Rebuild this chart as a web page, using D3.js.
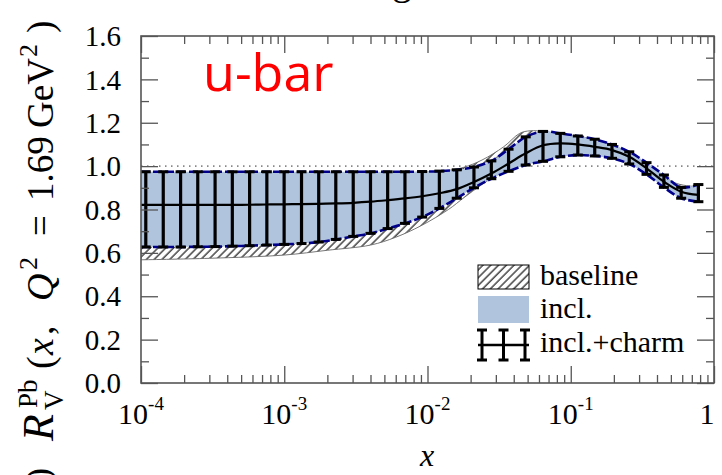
<!DOCTYPE html>
<html>
<head>
<meta charset="utf-8">
<script src="https://cdn.jsdelivr.net/npm/d3@7"></script>
<style>
  html, body { margin: 0; padding: 0; background: #fff; }
  svg { display: block; }
  text { white-space: pre; }
</style>
</head>
<body>
<svg width="722" height="475" font-family="'Liberation Serif', 'DejaVu Serif', serif"></svg>
<script>
(function (d3) {
  'use strict';

  // x positions of the error bars (first entry just opens the band at the frame)
  const xPoints = [1e-4, 1.08e-4, 1.43e-4, 1.89e-4, 2.49e-4, 3.29e-4, 4.34e-4, 5.73e-4, 7.56e-4, 9.98e-4,
    1.32e-3, 1.74e-3, 2.29e-3, 3.03e-3, 4.0e-3, 5.27e-3, 6.96e-3, 9.18e-3, 1.21e-2, 1.60e-2,
    2.11e-2, 2.79e-2, 3.68e-2, 4.85e-2, 6.40e-2, 8.45e-2, 0.112, 0.147, 0.194, 0.256,
    0.338, 0.447, 0.590, 0.778];

  // incl. band (= incl.+charm error bars)
  const inclUpper = [0.974, 0.974, 0.974, 0.974, 0.974, 0.974, 0.974, 0.974, 0.974, 0.974,
    0.974, 0.974, 0.974, 0.974, 0.974, 0.974, 0.974, 0.975, 0.977, 0.983,
    0.996, 1.024, 1.078, 1.135, 1.160, 1.151, 1.139, 1.124, 1.100, 1.066,
    1.016, 0.959, 0.902, 0.915];
  const inclLower = [0.627, 0.627, 0.627, 0.627, 0.628, 0.629, 0.631, 0.633, 0.636, 0.639,
    0.643, 0.650, 0.662, 0.676, 0.690, 0.712, 0.736, 0.765, 0.805, 0.852,
    0.900, 0.942, 0.976, 1.005, 1.022, 1.043, 1.051, 1.047, 1.036, 1.010,
    0.962, 0.902, 0.852, 0.836];
  const central = [0.821, 0.821, 0.821, 0.821, 0.821, 0.821, 0.821, 0.822, 0.823, 0.824,
    0.825, 0.826, 0.828, 0.831, 0.836, 0.843, 0.851, 0.861, 0.875, 0.894,
    0.927, 0.966, 1.012, 1.059, 1.096, 1.105, 1.100, 1.089, 1.074, 1.043,
    0.990, 0.928, 0.882, 0.867];

  // baseline (hatched)
  const baseX = [1e-4, 3e-4, 1e-3, 2e-3, 4e-3, 6e-3, 9e-3, 1.4e-2, 1.8e-2, 2.4e-2,
    3.4e-2, 4.4e-2, 5.2e-2, 6.5e-2, 8e-2, 0.12, 0.2, 0.35, 0.55, 0.778];
  const baseUpper = [0.965, 0.965, 0.965, 0.965, 0.966, 0.968, 0.972, 0.980, 0.995, 1.028,
    1.089, 1.151, 1.163, 1.160, 1.150, 1.135, 1.095, 1.000, 0.920, 0.905];
  const baseLower = [0.568, 0.575, 0.590, 0.612, 0.636, 0.672, 0.725, 0.800, 0.855, 0.915,
    0.980, 1.020, 1.035, 1.045, 1.050, 1.050, 1.040, 0.970, 0.870, 0.845];

  const xMajorTicks = [1e-4, 1e-3, 1e-2, 1e-1, 1];
  const xTickExponents = ['-4', '-3', '-2', '-1', ''];
  const yMajorTicks = [0, 0.2, 0.4, 0.6, 0.8, 1.0, 1.2, 1.4, 1.6];
  const legendLabels = ['baseline', 'incl.', 'incl.+charm'];

  const svg = d3.select('svg');
  const plot = { left: 141, right: 714, top: 36, bottom: 383 };

  const x = d3.scaleLog().domain([1e-4, 1]).range([plot.left, plot.right]);
  const y = d3.scaleLinear().domain([0, 1.6]).range([plot.bottom, plot.top]);

  const defs = svg.append('defs');
  defs.append('clipPath').attr('id', 'clip')
    .append('rect')
      .attr('x', plot.left).attr('y', plot.top)
      .attr('width', plot.right - plot.left).attr('height', plot.bottom - plot.top);
  const hatch = defs.append('pattern')
    .attr('id', 'hatch')
    .attr('patternUnits', 'userSpaceOnUse')
    .attr('width', 5.5).attr('height', 10)
    .attr('patternTransform', 'rotate(45)');
  hatch.append('rect').attr('width', 5.5).attr('height', 10).attr('fill', '#fff');
  hatch.append('line')
    .attr('x1', 1).attr('x2', 1).attr('y1', 0).attr('y2', 10)
    .attr('stroke', '#000').attr('stroke-width', 1.1);

  const inclData = xPoints.map((xv, i) => ({ x: xv, hi: inclUpper[i], lo: inclLower[i], c: central[i] }));
  const baseData = baseX.map((xv, i) => ({ x: xv, hi: baseUpper[i], lo: baseLower[i] }));
  const barData = inclData.slice(1);

  const g = svg.append('g').attr('clip-path', 'url(#clip)');

  // dotted line at 1
  g.append('line')
    .attr('x1', plot.left).attr('x2', plot.right)
    .attr('y1', y(1)).attr('y2', y(1))
    .attr('stroke', '#888').attr('stroke-width', 1.6)
    .attr('stroke-dasharray', '1.5,4.5');

  const curve = d3.curveCatmullRom;

  g.append('path')
    .datum(baseData)
    .attr('d', d3.area().x(d => x(d.x)).y0(d => y(d.lo)).y1(d => y(d.hi)).curve(curve))
    .attr('fill', 'url(#hatch)')
    .attr('stroke', '#666').attr('stroke-width', 0.9);

  g.append('path')
    .datum(inclData)
    .attr('d', d3.area().x(d => x(d.x)).y0(d => y(d.lo)).y1(d => y(d.hi)).curve(curve))
    .attr('fill', '#b0c4de');

  ['hi', 'lo'].forEach(k => {
    g.append('path')
      .datum(inclData)
      .attr('d', d3.line().x(d => x(d.x)).y(d => y(d[k])).curve(curve))
      .attr('fill', 'none')
      .attr('stroke', '#00008b').attr('stroke-width', 2.6)
      .attr('stroke-dasharray', '9,3');
  });

  g.append('path')
    .datum(inclData)
    .attr('d', d3.line().x(d => x(d.x)).y(d => y(d.c)).curve(curve))
    .attr('fill', 'none')
    .attr('stroke', '#000').attr('stroke-width', 2.2);

  // error bars
  const bars = g.selectAll('.bar').data(barData).enter().append('g').attr('class', 'bar');
  bars.append('line')
    .attr('x1', d => x(d.x)).attr('x2', d => x(d.x))
    .attr('y1', d => y(d.hi)).attr('y2', d => y(d.lo))
    .attr('stroke', '#000').attr('stroke-width', 3.2);
  ['hi', 'lo'].forEach(k => {
    bars.append('line')
      .attr('x1', d => x(d.x) - 5).attr('x2', d => x(d.x) + 5)
      .attr('y1', d => y(d[k])).attr('y2', d => y(d[k]))
      .attr('stroke', '#000').attr('stroke-width', 3);
  });

  // frame and ticks
  const axisColor = '#555';
  const xMinor = x.ticks().filter(t => !xMajorTicks.some(m => Math.abs(m - t) / m < 1e-6));
  const yMinor = y.ticks(16).filter(t => !yMajorTicks.some(m => Math.abs(m - t) < 1e-6));

  const addAxis = (axis, transform) => {
    const a = svg.append('g').attr('transform', transform).call(axis);
    a.select('.domain').remove();
    a.selectAll('text').remove();
    a.selectAll('line').attr('stroke', axisColor).attr('stroke-width', 1.3);
  };
  addAxis(d3.axisBottom(x).tickValues(xMajorTicks).tickSize(-17), `translate(0,${plot.bottom})`);
  addAxis(d3.axisBottom(x).tickValues(xMinor).tickSize(-8), `translate(0,${plot.bottom})`);
  addAxis(d3.axisTop(x).tickValues(xMajorTicks).tickSize(-17), `translate(0,${plot.top})`);
  addAxis(d3.axisTop(x).tickValues(xMinor).tickSize(-8), `translate(0,${plot.top})`);
  addAxis(d3.axisLeft(y).tickValues(yMajorTicks).tickSize(-17), `translate(${plot.left},0)`);
  addAxis(d3.axisLeft(y).tickValues(yMinor).tickSize(-8), `translate(${plot.left},0)`);
  addAxis(d3.axisRight(y).tickValues(yMajorTicks).tickSize(-17), `translate(${plot.right},0)`);
  addAxis(d3.axisRight(y).tickValues(yMinor).tickSize(-8), `translate(${plot.right},0)`);

  svg.append('rect')
    .attr('x', plot.left).attr('y', plot.top)
    .attr('width', plot.right - plot.left).attr('height', plot.bottom - plot.top)
    .attr('fill', 'none').attr('stroke', axisColor).attr('stroke-width', 1.6);

  // tick labels
  svg.selectAll('.ylab').data(yMajorTicks).enter().append('text')
    .attr('class', 'ylab')
    .attr('x', 121).attr('y', d => y(d)).attr('dy', '0.35em')
    .attr('text-anchor', 'end')
    .attr('font-size', 29)
    .text(d => d.toFixed(1));

  const xl = svg.selectAll('.xlab').data(xMajorTicks).enter().append('text')
    .attr('class', 'xlab')
    .attr('x', d => x(d) - (d === 1 ? 7 : 0)).attr('y', 424)
    .attr('text-anchor', 'middle')
    .attr('font-size', 30);
  xl.append('tspan').text(d => d === 1 ? '1' : '10');
  xl.append('tspan')
    .attr('font-size', 19).attr('dy', -14)
    .text((d, i) => xTickExponents[i]);

  // axis titles
  svg.append('text')
    .attr('x', 427).attr('y', 466)
    .attr('text-anchor', 'middle')
    .attr('font-size', 32).attr('font-style', 'italic')
    .text('x');

  // y title, pieces placed along the rotated baseline
  const yTitleParts = [
    { t: 'R', at: 0, dy: 0, size: 44, italic: true },
    { t: 'Pb', at: 33, dy: -16, size: 27 },
    { t: 'V', at: 31, dy: 10, size: 27 },
    { t: '(', at: 72, dy: 0, size: 38 },
    { t: 'x', at: 86, dy: 0, size: 38, italic: true },
    { t: ',', at: 106, dy: 0, size: 38 },
    { t: 'Q', at: 140, dy: 0, size: 38, italic: true },
    { t: '2', at: 171, dy: -16, size: 26 },
    { t: '=', at: 205, dy: 0, size: 37 },
    { t: '1.69', at: 240, dy: 0, size: 37 },
    { t: 'GeV', at: 313, dy: 0, size: 37 },
    { t: '2', at: 384, dy: -16, size: 26 },
    { t: ')', at: 408, dy: 0, size: 37 }
  ];
  svg.append('text')
    .attr('transform', 'translate(53,441) rotate(-90)')
    .selectAll('tspan').data(yTitleParts).enter().append('tspan')
      .attr('x', d => d.at)
      .attr('y', d => d.dy)
      .attr('font-size', d => d.size)
      .attr('font-style', d => d.italic ? 'italic' : 'normal')
      .text(d => d.t);

  // cut-off pieces of neighbouring panels
  svg.append('text')
    .attr('x', 392).attr('y', -6)
    .attr('font-size', 40)
    .text('g');
  svg.append('text')
    .attr('transform', 'translate(50,480) rotate(-90)')
    .attr('font-size', 36)
    .text(')');

  // panel label
  svg.append('text')
    .attr('x', 203).attr('y', 91)
    .attr('font-family', '"Open Sans", sans-serif')
    .attr('font-size', 52)
    .attr('fill', '#ff0000')
    .text('u-bar');

  // legend
  const lg = svg.append('g');
  lg.append('rect')
    .attr('x', 478).attr('y', 265).attr('width', 51).attr('height', 24)
    .attr('fill', 'url(#hatch)').attr('stroke', '#000').attr('stroke-width', 1);
  lg.append('rect')
    .attr('x', 478).attr('y', 296).attr('width', 51).attr('height', 27)
    .attr('fill', '#b0c4de');
  lg.append('line')
    .attr('x1', 478).attr('x2', 529).attr('y1', 345).attr('y2', 345)
    .attr('stroke', '#000').attr('stroke-width', 2.4);
  [482, 503.5, 525].forEach(px => {
    lg.append('line').attr('x1', px).attr('x2', px).attr('y1', 330).attr('y2', 360)
      .attr('stroke', '#000').attr('stroke-width', 3);
    [330, 360].forEach(py => {
      lg.append('line').attr('x1', px - 5).attr('x2', px + 5).attr('y1', py).attr('y2', py)
        .attr('stroke', '#000').attr('stroke-width', 3);
    });
  });
  lg.selectAll('.leg').data(legendLabels).enter().append('text')
    .attr('class', 'leg')
    .attr('x', 540).attr('y', (d, i) => [285, 318, 352][i])
    .attr('font-size', 30)
    .text(d => d);

}(d3));
</script>
</body>
</html>
